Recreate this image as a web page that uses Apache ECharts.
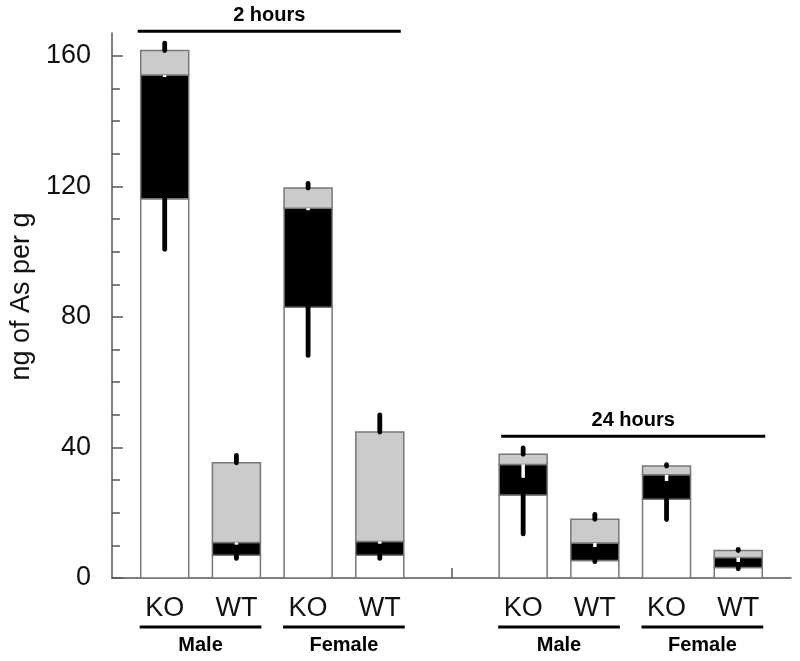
<!DOCTYPE html>
<html>
<head>
<meta charset="utf-8">
<script src="https://cdn.jsdelivr.net/npm/echarts@6/dist/echarts.min.js"></script>
<style>html,body{margin:0;padding:0;background:#fff}#c{width:800px;height:661px}</style>
</head>
<body>
<div id="c"></div>
<script>
// ---- data ----
const positions  = [1, 2, 3, 4, 6, 7, 8, 9];
const tickLabels = ['KO', 'WT', 'KO', 'WT', 'KO', 'WT', 'KO', 'WT'];
const whiteVals  = [116.2, 7.0, 83.0, 7.0, 25.4, 5.4, 24.1, 3.2];
const blackVals  = [37.9, 3.9, 30.3, 4.2, 9.4, 5.3, 7.5, 3.1];
const grayVals   = [7.5, 24.4, 6.2, 33.5, 3.1, 7.3, 2.7, 2.1];
const errWhite   = [15.5, 1.0, 14.8, 1.0, 11.9, 0.4, 6.2, 0.4];
const errBlack   = [0.6, 0.7, 0.6, 0.7, 4.1, 1.2, 1.9, 1.4];
const errGray    = [2.3, 2.3, 1.4, 5.3, 2.0, 1.5, 0.4, 0.4];
const groupNames = ['Male', 'Female', 'Male', 'Female'];
const groupFrom  = [1, 3, 6, 8];
const groupTo    = [2, 4, 7, 9];
const periodNames = ['2 hours', '24 hours'];
const periodFrom  = [1, 6];
const periodTo    = [4, 9];
const yLabelTicks = [0, 40, 80, 120, 160];
const yMinorTicks = [10, 20, 30, 50, 60, 70, 90, 100, 110, 130, 140, 150];

// ---- chart ----
const FONT = '"Liberation Sans", Arial, Helvetica, sans-serif';
const AXIS = '#555';
const BAR_W = 48;
const chart = echarts.init(document.getElementById('c'), null, {renderer: 'canvas'});

const segColors = ['#ffffff', '#000000', '#cbcbcb'];

const option = {
  animation: false,
  backgroundColor: '#fff',
  grid: {left: 109, right: 9, top: 33, bottom: 83, containLabel: false},
  xAxis: {
    type: 'value', min: 0.264, max: 9.736,
    splitLine: {show: false},
    axisLine: {show: true, onZero: false, lineStyle: {color: AXIS, width: 1.5}},
    axisTick: {show: true, inside: true, length: 10, customValues: [5], lineStyle: {color: AXIS, width: 1.5}},
    axisLabel: {
      customValues: positions,
      formatter: v => tickLabels[positions.indexOf(Math.round(v))] || '',
      margin: 17, fontSize: 27, color: '#111', fontFamily: FONT
    }
  },
  yAxis: [{
    type: 'value', min: 0, max: 167, position: 'left',
    splitLine: {show: false},
    axisLine: {show: true, onZero: false, lineStyle: {color: AXIS, width: 1.5}},
    axisTick: {show: true, inside: true, length: 11, customValues: yLabelTicks, lineStyle: {color: AXIS, width: 1.5}},
    axisLabel: {customValues: yLabelTicks, margin: 21, fontSize: 27, color: '#111', fontFamily: FONT},
    name: 'ng of As per g', nameLocation: 'middle', nameGap: 62,
    nameTextStyle: {fontSize: 27, color: '#111', fontFamily: FONT, padding: [0, 0, 0, 18]}
  }, {
    type: 'value', min: 0, max: 167, position: 'left',
    splitLine: {show: false},
    axisLine: {show: false},
    axisTick: {show: true, inside: true, length: 8, customValues: yMinorTicks, lineStyle: {color: AXIS, width: 1.5}},
    axisLabel: {show: false}
  }],
  series: [
    {
      // stacked bar segments: white (bottom), black (middle), gray (top)
      type: 'custom', xAxisIndex: 0, yAxisIndex: 0, z: 2, silent: true,
      data: positions.map((x, i) => [x, whiteVals[i], blackVals[i], grayVals[i]]),
      encode: {x: 0, y: 1},
      renderItem(params, api) {
        const x = api.value(0);
        const vals = [api.value(1), api.value(2), api.value(3)];
        const children = [];
        let base = 0;
        vals.forEach((v, k) => {
          const p0 = api.coord([x, base]);
          const p1 = api.coord([x, base + v]);
          children.push({
            type: 'rect',
            shape: {x: p0[0] - BAR_W / 2, y: p1[1], width: BAR_W, height: p0[1] - p1[1]},
            style: {fill: segColors[k], stroke: '#777', lineWidth: 1.5}
          });
          base += v;
        });
        return {type: 'group', children};
      }
    },
    {
      // error bars
      type: 'custom', xAxisIndex: 0, yAxisIndex: 0, z: 5, silent: true, clip: false,
      data: positions.map((x, i) => [x, whiteVals[i], blackVals[i], grayVals[i], errWhite[i], errBlack[i], errGray[i]]),
      encode: {x: 0, y: 1},
      renderItem(params, api) {
        const x = api.value(0);
        const w = api.value(1);
        const b = w + api.value(2);
        const t = b + api.value(3);
        const ew = api.value(4), eb = api.value(5), eg = api.value(6);
        const p = v => api.coord([x, v]);
        const ln = (a, c, color, width, cap) => ({
          type: 'line',
          shape: {x1: a[0], y1: a[1], x2: c[0], y2: c[1]},
          style: {stroke: color, lineWidth: width, lineCap: cap}
        });
        return {type: 'group', children: [
          ln(p(w), p(w - ew), '#000', 4.8, 'round'),
          ln(p(b), p(b - eb), '#fff', 3.5, 'butt'),
          ln(p(t), p(t + eg), '#000', 4.8, 'round')
        ]};
      }
    },
    {
      // group labels under the axis
      type: 'custom', xAxisIndex: 0, yAxisIndex: 0, z: 5, silent: true, clip: false,
      data: groupNames.map((n, i) => [groupFrom[i], 0, groupTo[i]]),
      encode: {x: 0, y: 1},
      renderItem(params, api) {
        const i = params.dataIndex;
        const a = api.coord([api.value(0), 0]);
        const c = api.coord([api.value(2), 0]);
        const x1 = a[0] - BAR_W / 2 - 1, x2 = c[0] + BAR_W / 2 + 1;
        return {type: 'group', children: [
          {type: 'line', shape: {x1, y1: a[1] + 49, x2, y2: a[1] + 49},
           style: {stroke: '#000', lineWidth: 3}},
          {type: 'text', x: (x1 + x2) / 2, y: a[1] + 67,
           style: {text: groupNames[i], fill: '#000', font: 'bold 20px ' + FONT, align: 'center', verticalAlign: 'middle'}}
        ]};
      }
    },
    {
      // time period labels above bars
      type: 'custom', xAxisIndex: 0, yAxisIndex: 0, z: 5, silent: true, clip: false,
      data: periodNames.map((n, i) => [periodFrom[i], 0, periodTo[i]]),
      encode: {x: 0, y: 1},
      renderItem(params, api) {
        const i = params.dataIndex;
        const level = [167.5, 43.4][i];
        const a = api.coord([api.value(0), level]);
        const c = api.coord([api.value(2), level]);
        const x1 = a[0] - BAR_W / 2 + [-3, 2][i], x2 = c[0] + BAR_W / 2 + [-3, 3][i];
        return {type: 'group', children: [
          {type: 'line', shape: {x1, y1: a[1], x2, y2: a[1]},
           style: {stroke: '#000', lineWidth: 3}},
          {type: 'text', x: (x1 + x2) / 2, y: a[1] - 16,
           style: {text: periodNames[i], fill: '#000', font: 'bold 20px ' + FONT, align: 'center', verticalAlign: 'middle'}}
        ]};
      }
    }
  ]
};
chart.setOption(option);
</script>
</body>
</html>
